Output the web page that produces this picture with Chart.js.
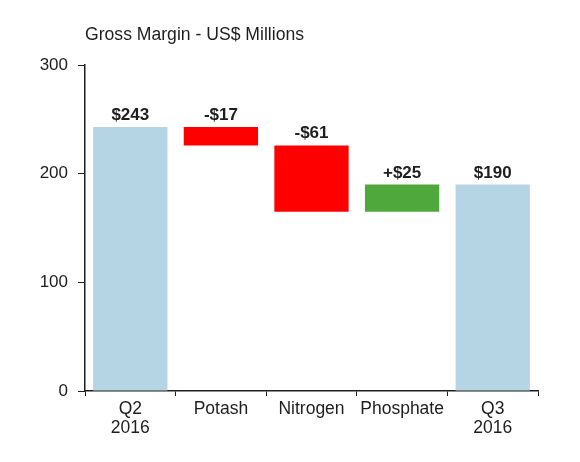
<!DOCTYPE html>
<html>
<head>
<meta charset="utf-8">
<script src="https://cdn.jsdelivr.net/npm/chart.js@4"></script>
<style>
  html, body { margin: 0; padding: 0; background: #fff; }
  #wrap { width: 580px; height: 462px; }
</style>
</head>
<body>
<div id="wrap"><canvas id="marginChart" width="580" height="462"></canvas></div>
<script>
// waterfall steps, values in US$ millions
const categories = [['Q2', '2016'], 'Potash', 'Nitrogen', 'Phosphate', ['Q3', '2016']];
const barRanges = [[0, 243], [243, 226], [226, 165], [165, 190], [0, 190]];
const barLabels = ['$243', '-$17', '-$61', '+$25', '$190'];
const barColors = ['#b5d5e4', '#ff0000', '#ff0000', '#4ea83b', '#b5d5e4'];
const yTicks = [0, 100, 200, 300];

const textColor = '#1e1e1e';
const fontFamily = 'Liberation Sans, Arial, sans-serif';

// labels over each bar + the title at top left
const labelPlugin = {
	id: 'barLabels',
	afterDatasetsDraw(chart) {
		const ctx = chart.ctx;
		const meta = chart.getDatasetMeta(0);
		ctx.save();
		ctx.fillStyle = textColor;
		ctx.font = 'bold 17px ' + fontFamily;
		ctx.textAlign = 'center';
		ctx.textBaseline = 'alphabetic';
		meta.data.forEach(function(bar, i) {
			var top = Math.min(bar.y, bar.base);
			ctx.fillText(barLabels[i], bar.x, top - 7);
		});
		ctx.font = '17.6px ' + fontFamily;
		ctx.textAlign = 'left';
		ctx.fillText('Gross Margin - US$ Millions', chart.chartArea.left, 40);
		ctx.restore();
	}
};

const config = {
	type: 'bar',
	data: {
		labels: categories,
		datasets: [{
			data: barRanges,
			backgroundColor: barColors,
			borderWidth: 0,
			barPercentage: 0.82,
			categoryPercentage: 1.0
		}]
	},
	options: {
		responsive: false,
		animation: false,
		layout: {
			padding: { top: 65, right: 42, bottom: 0, left: 0 }
		},
		plugins: {
			legend: { display: false },
			tooltip: { enabled: false }
		},
		scales: {
			x: {
				grid: {
					offset: true,
					drawOnChartArea: false,
					color: textColor,
					tickLength: 5
				},
				border: { color: textColor, width: 1.5 },
				ticks: {
					color: textColor,
					padding: 4,
					maxRotation: 0,
					font: { family: fontFamily, size: 17.5, lineHeight: 1.06 }
				},
				afterFit: function(axis) { axis.height = 71; }
			}, //end of x-axis
			y: {
				min: 0,
				max: 300,
				afterBuildTicks: function(axis) {
					axis.ticks = yTicks.map(function(v) { return { value: v }; });
				},
				grid: {
					drawOnChartArea: false,
					color: textColor,
					tickLength: 7
				},
				border: { color: textColor, width: 1.5 },
				ticks: {
					color: textColor,
					padding: 10,
					font: { family: fontFamily, size: 17 }
				},
				afterFit: function(axis) { axis.width = 85; }
			} //end of y-axis
		} //end of scales
	}, //end of options
	plugins: [labelPlugin]
}; //end of config

new Chart(document.getElementById('marginChart'), config);
</script>
</body>
</html>
